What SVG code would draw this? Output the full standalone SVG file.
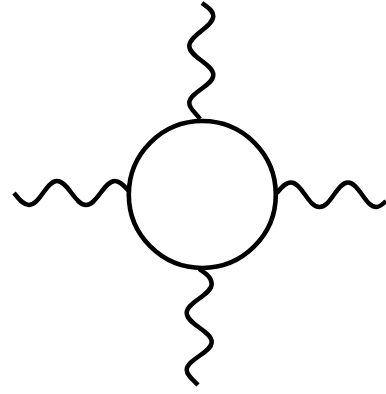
<svg xmlns="http://www.w3.org/2000/svg" width="386" height="394" viewBox="0 0 386 394">
<style>.l{fill:none;stroke:#000;stroke-width:4.500;stroke-linecap:butt}</style>
<rect width="386" height="394" fill="#fff"/>
<g id="connectors">
<path id="top" class="l" d="M202 3C207 7 213.300 10 213.300 16C213.300 27 189.300 35 189.300 46C189.300 57 213.300 64 213.300 75C213.300 86 189.300 92 189.300 103C189.300 109 196 113 200 119"/>
<path id="left" class="l" d="M14 193C19 199 23 205 29 205C40 205 46 181 57 181C68 181 75 205 86 205C97 205 104 181 115 181C120 181 124 186 129 191"/>
<path id="right" class="l" d="M277 193C281 188 285 182.500 291 182.500C302 182.500 308 207 319.500 207C331 207 337 182.500 348 182.500C359 182.500 365 207 376.500 207C380 207 383 204 386 201"/>
<path id="bottom" class="l" d="M199 269C205 273 211.700 277 211.700 284C211.700 295 186.700 302 186.700 313C186.700 324 211.700 331 211.700 342C211.700 353 186.700 359 186.700 370C186.700 375 193 380 198 385"/>
</g>
<g id="loop"><circle cx="202.300" cy="194.500" r="73.500" fill="none" stroke="#000" stroke-width="4.600"/></g>
</svg>
